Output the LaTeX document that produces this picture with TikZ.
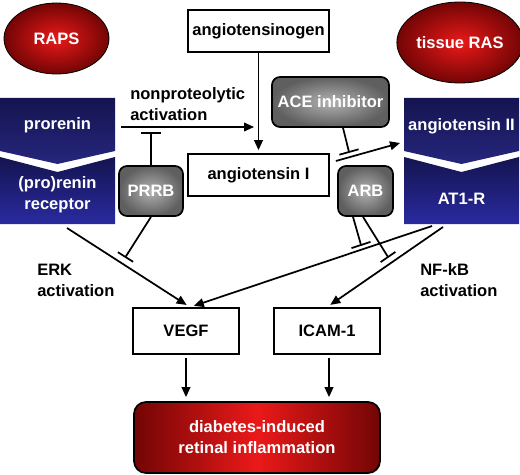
\documentclass[tikz,border=0pt]{standalone}
\usepackage{fontspec}
\setmainfont{Liberation Sans}
\usetikzlibrary{arrows.meta,shapes.geometric,calc}

\definecolor{navydark}{RGB}{20,20,80}
\definecolor{navymid}{RGB}{38,38,125}
\definecolor{navylight}{RGB}{42,42,160}
\definecolor{reddark}{RGB}{115,5,5}
\definecolor{redlight}{RGB}{235,25,25}
\definecolor{graydark}{RGB}{95,95,95}
\definecolor{graylight}{RGB}{178,178,178}

\tikzset{
  txt/.style={font=\fontsize{12.4}{15.75}\selectfont\bfseries, inner sep=0.75pt},
  whitebox/.style={txt, draw, line width=1.3pt, fill=white},
  graybox/.style={txt, draw, line width=1.3pt, rounded corners=6pt, text=white, inner color=graylight, outer color=graydark, minimum height=37.5pt},
  redblob/.style={txt, ellipse, draw, line width=0.6pt, text=white, inner color=redlight, outer color=reddark},
  chev/.style={txt, text=white, align=center},
  conn/.style={line width=1.3pt, -{Triangle[length=7.5pt,width=6.5pt]}},
  inh/.style={line width=1.3pt},
}

\begin{document}
\begin{tikzpicture}[x=0.75pt,y=0.75pt,yscale=-1,xscale=1]
	\useasboundingbox (0,0) rectangle (520,474);

	% chevron blocks
	\shade[top color=navydark, bottom color=navymid] (0,98) -- (115,98) -- (115,151) -- (57.5,164) -- (0,151) -- cycle;
	\shade[top color=navydark, bottom color=navylight] (0,157) -- (57.5,172) -- (115,157) -- (115,224) -- (0,224) -- cycle;
	\shade[top color=navydark, bottom color=navymid] (404,98) -- (519,98) -- (519,151) -- (461.5,164) -- (404,151) -- cycle;
	\shade[top color=navydark, bottom color=navylight] (404,157) -- (461.5,172) -- (519,157) -- (519,224) -- (404,224) -- cycle;

	\node [chev] (prorenin) at (57.5,125) {prorenin};
	\node [chev] (receptor) at (57.5,195) {(pro)renin\\receptor};
	\node [chev] (ang2) at (461.5,126) {angiotensin II};
	\node [chev] (at1r) at (461.5,199) {AT1-R};

	\coordinate (prorenin-out) at (121,127);
	\coordinate (receptor-out) at (67,228);
	\coordinate (ang2-in) at (400,143);
	\coordinate (at1r-outA) at (432,226);
	\coordinate (at1r-outB) at (443,227);

	% red blobs
	\node [redblob, minimum width=78.75pt, minimum height=53.25pt] (raps) at (56.5,38.5) {RAPS};
	\node [redblob, minimum width=79.5pt, minimum height=60.75pt] (tissueras) at (460,42.5) {tissue RAS};

	% white boxes
	\node [whitebox, minimum width=105.75pt, minimum height=31.5pt] (agt) at (258.5,31) {angiotensinogen};
	\node [whitebox, minimum width=105.75pt, minimum height=31.5pt] (ang1) at (258.5,175) {angiotensin I};
	\node [whitebox, minimum width=79.5pt, minimum height=34.5pt] (vegf) at (186,331) {VEGF};
	\node [whitebox, minimum width=79.5pt, minimum height=34.5pt] (icam) at (327,331) {ICAM-1};

	% blockers
	\node [graybox, minimum width=87.75pt] (acei) at (330.5,102) {ACE inhibitor};
	\node [graybox, minimum width=48pt] (prrb) at (151,191) {PRRB};
	\node [graybox, minimum width=41.25pt] (arb) at (365.5,191) {ARB};

	\node [txt, draw, line width=1.3pt, rounded corners=9pt, text=white, left color=reddark, right color=reddark, middle color=redlight, align=center, minimum width=184.5pt, minimum height=53.25pt] (inflam) at (257,437.5) {diabetes-induced\\retinal inflammation};

	% labels
	\node [txt, anchor=west, align=left] (nonprot) at (129,104.5) {nonproteolytic\\activation};
	\node [txt, anchor=west, align=left] (erk) at (36,280) {ERK\\activation};
	\node [txt, anchor=west, align=left] (nfkb) at (419,280) {NF-kB\\activation};

	% arrows
	\coordinate (join) at (259,127);
	\draw [conn, shorten >=3.75pt] (prorenin-out) -- (join);
	\draw [conn, shorten >=2.25pt] (agt) -- (ang1);
	\draw [conn] ($(ang1.east)+(6,-14)$) -- (ang2-in);
	\draw [conn, shorten >=3pt] (receptor-out) -- ($(vegf.north)+(4,0)$);
	\draw [conn, shorten >=3pt] (at1r-outA) -- ($(vegf.north)+(4,0)$);
	\draw [conn, shorten >=3pt] (at1r-outB) -- (icam.north);
	\draw [conn, shorten <=2.25pt, shorten >=3pt] (vegf) -- (vegf |- inflam.north);
	\draw [conn, shorten <=2.25pt, shorten >=3pt] ($(icam.south)+(2,0)$) -- ($(icam.south |- inflam.north)+(2,0)$);

	% inhibitions
	\coordinate (prrb-bar1) at (151,133);
	\coordinate (prrb-bar2) at (125.5,257);
	\coordinate (acei-bar) at (349,152);
	\coordinate (arb-bar1) at (361,245);
	\coordinate (arb-bar2) at (388,257);
	\draw [inh] (prrb) -- (prrb-bar1);
	\draw [inh] ($(prrb-bar1)+(-10,0)$) -- ($(prrb-bar1)+(10,0)$);
	\draw [inh] (prrb.south) -- (prrb-bar2);
	\draw [inh] ($(prrb-bar2)+(-7.6,-4.8)$) -- ($(prrb-bar2)+(7.6,4.8)$);
	\draw [inh] ($(acei.south)+(12.5,0)$) -- (acei-bar);
	\draw [inh] ($(acei-bar)+(-9.6,2.7)$) -- ($(acei-bar)+(9.6,-2.7)$);
	\draw [inh] ($(arb.south)+(-12.5,0)$) -- (arb-bar1);
	\draw [inh] ($(arb-bar1)+(-9.5,3.1)$) -- ($(arb-bar1)+(9.5,-3.1)$);
	\draw [inh] ($(arb.south)+(-2.5,0)$) -- (arb-bar2);
	\draw [inh] ($(arb-bar2)+(-7.4,5.1)$) -- ($(arb-bar2)+(7.4,-5.1)$);
\end{tikzpicture}
\end{document}
